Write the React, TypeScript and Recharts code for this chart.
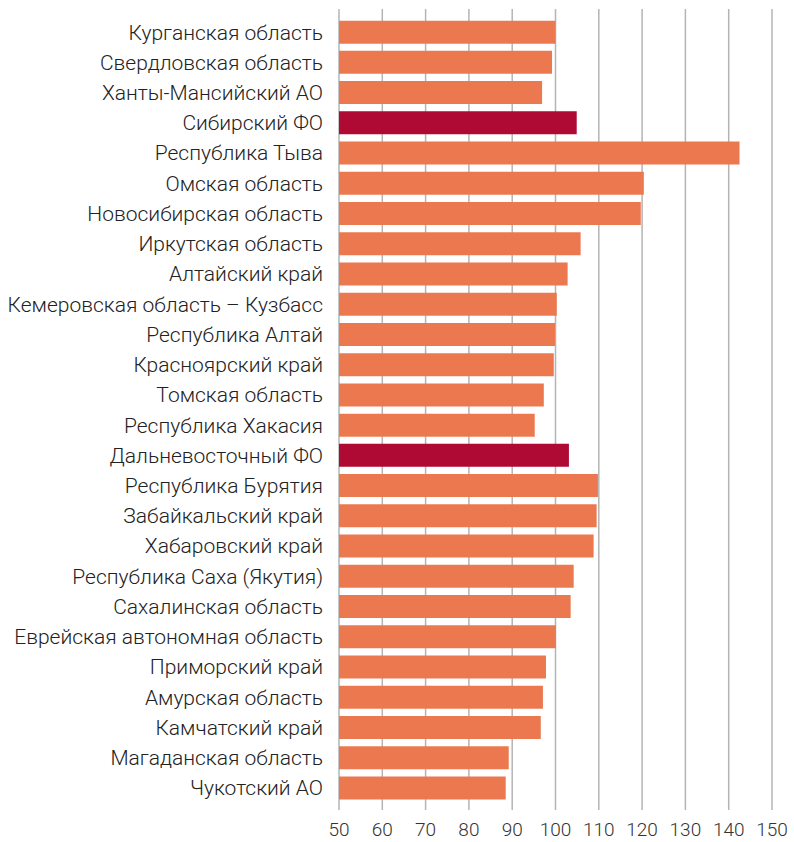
import { BarChart, Bar, XAxis, YAxis, CartesianGrid, Cell } from 'recharts'

// Регионы (сверху вниз)
const regions = [
  'Курганская область',
  'Свердловская область',
  'Ханты-Мансийский АО',
  'Сибирский ФО',
  'Республика Тыва',
  'Омская область',
  'Новосибирская область',
  'Иркутская область',
  'Алтайский край',
  'Кемеровская область – Кузбасс',
  'Республика Алтай',
  'Красноярский край',
  'Томская область',
  'Республика Хакасия',
  'Дальневосточный ФО',
  'Республика Бурятия',
  'Забайкальский край',
  'Хабаровский край',
  'Республика Саха (Якутия)',
  'Сахалинская область',
  'Еврейская автономная область',
  'Приморский край',
  'Амурская область',
  'Камчатский край',
  'Магаданская область',
  'Чукотский АО'
]

const values = [
  100.0, 99.2, 96.9, 104.9, 142.5, 120.4, 119.7, 105.8, 102.8, 100.3,
  99.9, 99.6, 97.3, 95.2, 103.1, 109.8, 109.5, 108.8, 104.2, 103.5,
  100.1, 97.8, 97.1, 96.6, 89.2, 88.5
]

// федеральные округа выделены цветом
const districts = ['Сибирский ФО', 'Дальневосточный ФО']

const xTicks = [50, 60, 70, 80, 90, 100, 110, 120, 130, 140, 150]

const ORANGE = '#EC7850'
const CRIMSON = '#AE0A34'
const FONT = 'Roboto, "Liberation Sans", Arial, sans-serif'

const data = regions.map((name, i) => ({ name, value: values[i] }))

export default function App() {
  return (
    <div style={{ position: 'absolute', left: 0, top: 0, background: '#fff' }}>
      <BarChart
        width={794}
        height={842}
        data={data}
        layout="vertical"
        barCategoryGap="12%"
        margin={{ top: 9, right: 22, bottom: 2, left: 0 }}
      >
        <CartesianGrid horizontal={false} stroke="#b4b4b4" strokeWidth={1.5} />
        <XAxis
          type="number"
          domain={[50, 150]}
          ticks={xTicks}
          allowDataOverflow
          axisLine={false}
          tickLine={false}
          tickSize={0}
          tickMargin={13}
          height={30}
          tick={{ fontSize: 19, fill: '#333', fontFamily: FONT, fontWeight: 300 }}
        />
        <YAxis
          type="category"
          dataKey="name"
          width={339}
          interval={0}
          axisLine={false}
          tickLine={false}
          tickSize={6}
          tickMargin={10}
          padding={{ top: 8, bottom: 7 }}
          tick={{ fontSize: 21, fill: '#222', fontFamily: FONT, fontWeight: 300 }}
        />
        <Bar dataKey="value" isAnimationActive={false}>
          {data.map((d, i) => (
            <Cell key={`c-${i}`} fill={districts.includes(d.name) ? CRIMSON : ORANGE} />
          ))}
        </Bar>
      </BarChart>
    </div>
  )
}
